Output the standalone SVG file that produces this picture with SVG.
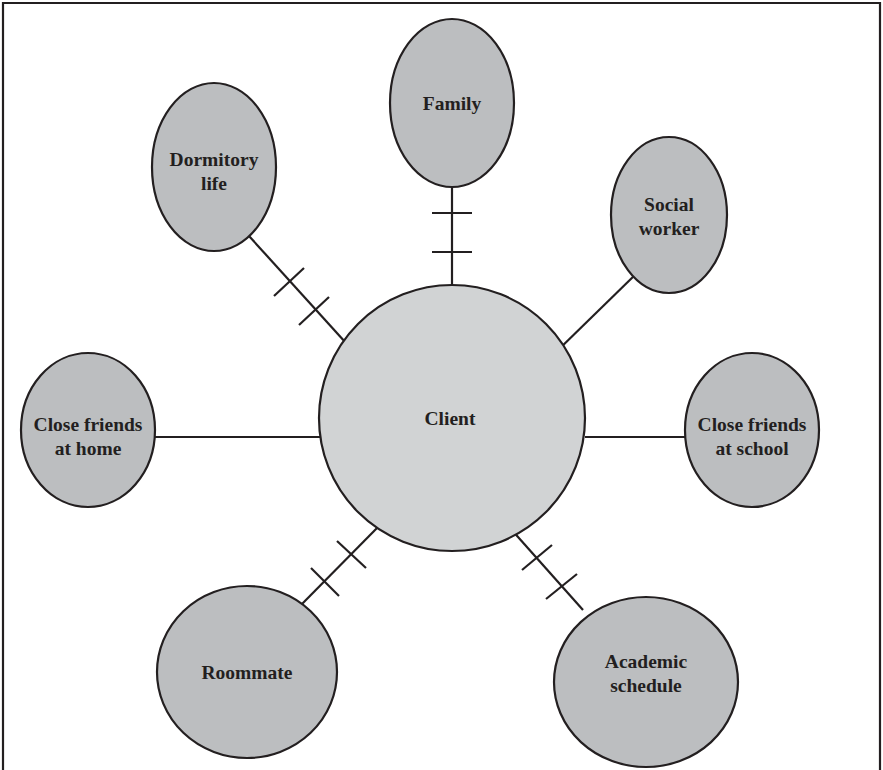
<svg xmlns="http://www.w3.org/2000/svg" width="883" height="770" viewBox="0 0 883 770">
<style>
.n{fill:#bcbec0;stroke:#231f20;stroke-width:2.2}
.c{fill:#d1d3d4;stroke:#231f20;stroke-width:2.2}
.t{font-family:"Liberation Serif","Times New Roman",serif;font-weight:bold;font-size:19.5px;fill:#231f20;text-anchor:middle}
.l{stroke:#231f20;stroke-width:2.2;fill:none}
</style>
<rect width="883" height="770" fill="#fff"/>
<path class="l" d="M3,770 V3 H880 V770"/>
<g id="connectors">
<line class="l" x1="452" y1="187" x2="452" y2="286"/>
<line class="l" x1="432" y1="213" x2="472" y2="213"/>
<line class="l" x1="432" y1="252" x2="472" y2="252"/>
<line class="l" x1="249" y1="236" x2="346" y2="343"/>
<line class="l" x1="274" y1="296" x2="304" y2="268"/>
<line class="l" x1="299" y1="325" x2="329" y2="297"/>
<line class="l" x1="553" y1="355" x2="637" y2="273"/>
<line class="l" x1="155" y1="437" x2="320" y2="437"/>
<line class="l" x1="585" y1="437" x2="685" y2="437"/>
<line class="l" x1="379" y1="526" x2="300" y2="606"/>
<line class="l" x1="337" y1="541" x2="366" y2="568"/>
<line class="l" x1="311" y1="568" x2="339" y2="596"/>
<line class="l" x1="510" y1="528" x2="583" y2="610"/>
<line class="l" x1="522" y1="570" x2="552" y2="545"/>
<line class="l" x1="546" y1="599" x2="577" y2="574"/>
</g>
<g id="client"><circle class="c" cx="452" cy="418" r="133"/><text class="t" x="450" y="425">Client</text></g>
<g id="family"><ellipse class="n" cx="452" cy="103" rx="62" ry="84"/><text class="t" x="452" y="110">Family</text></g>
<g id="dormitory"><ellipse class="n" cx="214" cy="167" rx="62" ry="84"/><text class="t" x="214" y="166">Dormitory</text><text class="t" x="214" y="190">life</text></g>
<g id="social"><ellipse class="n" cx="669" cy="215" rx="58" ry="78"/><text class="t" x="669" y="211">Social</text><text class="t" x="669" y="235">worker</text></g>
<g id="home"><ellipse class="n" cx="88" cy="430" rx="67" ry="77"/><text class="t" x="88" y="431">Close friends</text><text class="t" x="88" y="455">at home</text></g>
<g id="school"><ellipse class="n" cx="752" cy="430" rx="67" ry="77"/><text class="t" x="752" y="431">Close friends</text><text class="t" x="752" y="455">at school</text></g>
<g id="roommate"><ellipse class="n" cx="247" cy="672" rx="90" ry="86"/><text class="t" x="247" y="679">Roommate</text></g>
<g id="academic"><ellipse class="n" cx="646" cy="682" rx="92" ry="85"/><text class="t" x="646" y="668">Academic</text><text class="t" x="646" y="692">schedule</text></g>
</svg>
